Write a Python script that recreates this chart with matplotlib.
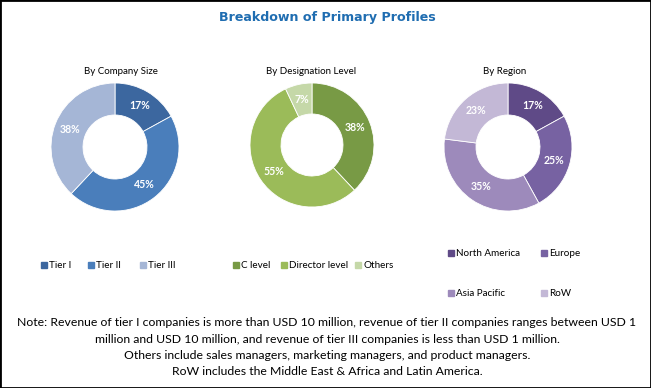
import matplotlib
matplotlib.use("Agg")
import matplotlib.pyplot as plt
import numpy as np
from matplotlib.patches import Rectangle

W, H = 651, 388

size_labels = ["Tier I", "Tier II", "Tier III"]
size_values = [17, 45, 38]
size_colors = ["#3C679F", "#4A7EBB", "#A5B6D6"]

desig_labels = ["C level", "Director level", "Others"]
desig_values = [38, 55, 7]
desig_colors = ["#789A45", "#9BBB59", "#C5D8A8"]

region_labels = ["North America", "Europe", "Asia Pacific", "RoW"]
region_values = [17, 25, 35, 23]
region_colors = ["#5F4A87", "#7762A2", "#9D8ABB", "#C3B8D6"]

note_lines = [
    "Note: Revenue of tier I companies is more than USD 10 million, revenue of tier II companies ranges between USD 1",
    "million and USD 10 million, and revenue of tier III companies is less than USD 1 million.",
    "Others include sales managers, marketing managers, and product managers.",
    "RoW includes the Middle East & Africa and Latin America.",
]

plt.rcParams["font.family"] = ["Lato", "DejaVu Sans"]

fig = plt.figure(figsize=(W / 100, H / 100), dpi=100)
fig.patches.append(Rectangle((0, 0), 1, 1, transform=fig.transFigure,
                             fill=False, edgecolor="black", linewidth=2))


def fx(x):
    return x / W


def fy(y):
    return 1 - y / H


def donut(cx, cy, r, values, colors, title, tx):
    ax = fig.add_axes([fx(cx - r), fy(cy + r), 2 * r / W, 2 * r / H])
    ax.pie(values, colors=colors, startangle=90, counterclock=False, radius=1,
           wedgeprops=dict(width=0.5, edgecolor="white", linewidth=0.6))
    ang = 90.0
    for v in values:
        mid = np.deg2rad(ang - v * 3.6 / 2)
        ax.text(0.75 * np.cos(mid), 0.75 * np.sin(mid), f"{v}%", ha="center", va="center",
                color="white", fontsize=7.6, fontweight="bold")
        ang -= v * 3.6
    ax.set_xlim(-1, 1)
    ax.set_ylim(-1, 1)
    ax.set_aspect("equal")
    ax.axis("off")
    fig.text(fx(tx), fy(71), title, ha="center", va="center", fontsize=7)


donut(115, 147, 64, size_values, size_colors, "By Company Size", 121)
donut(312, 145, 62, desig_values, desig_colors, "By Designation Level", 311)
donut(508, 147, 64, region_values, region_colors, "By Region", 505)


def legend_item(x, y, label, color):
    fig.patches.append(Rectangle((fx(x), fy(y + 3)), 6 / W, 6 / H,
                                 transform=fig.transFigure, color=color))
    fig.text(fx(x + 8), fy(y), label, ha="left", va="center", fontsize=7.1)


for x, lab, col in zip([41, 88, 140], size_labels, size_colors):
    legend_item(x, 265, lab, col)
for x, lab, col in zip([233, 281, 355], desig_labels, desig_colors):
    legend_item(x, 265, lab, col)
for (x, y), lab, col in zip([(448, 253), (541, 253), (448, 293), (541, 293)],
                            region_labels, region_colors):
    legend_item(x, y, lab, col)

fig.text(fx(327), fy(18), "Breakdown of Primary Profiles", ha="center", va="center",
         fontsize=9.1, fontweight="bold", color="#1F6DB1", family="DejaVu Sans")

for i, line in enumerate(note_lines):
    fig.text(fx(327), fy(323 + i * 16.3), line, ha="center", va="center", fontsize=8.8)

fig.savefig("out.png", dpi=100)
